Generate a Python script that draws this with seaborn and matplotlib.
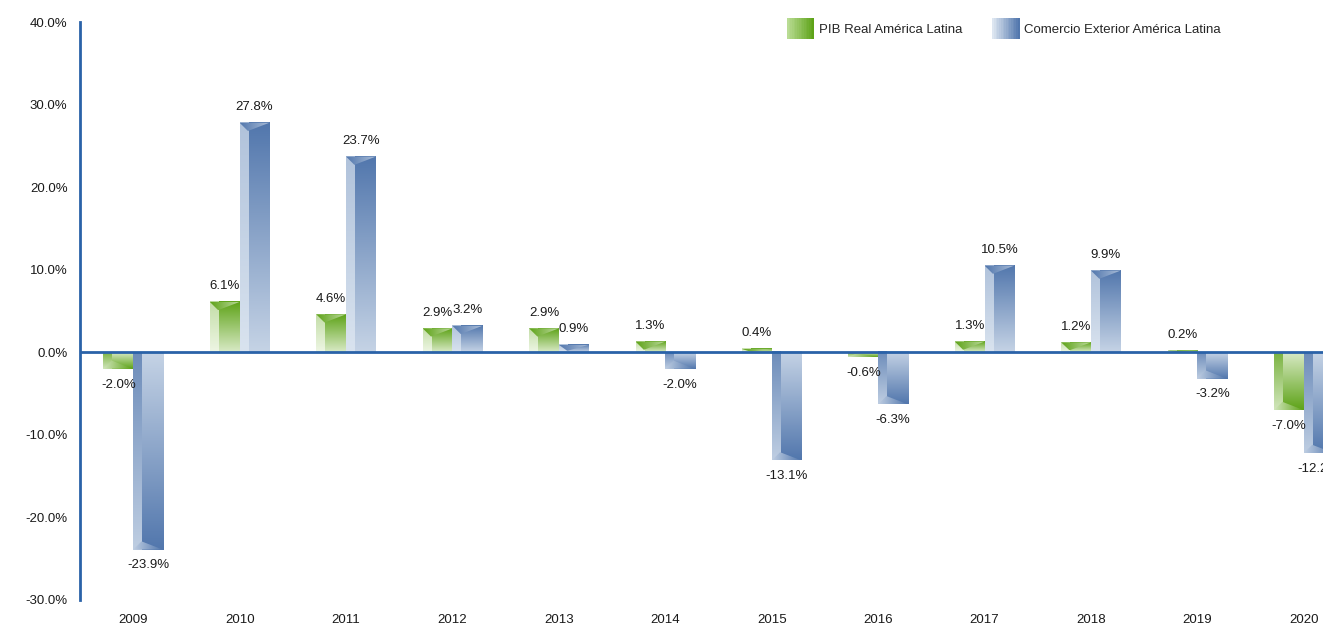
import numpy as np
import pandas as pd
import seaborn as sns
import matplotlib.pyplot as plt
from matplotlib.colors import to_rgb
from matplotlib.patches import Rectangle, Polygon
from matplotlib.legend_handler import HandlerBase

# Data
years = ["2009", "2010", "2011", "2012", "2013", "2014",
         "2015", "2016", "2017", "2018", "2019", "2020"]
pib = [-2.0, 6.1, 4.6, 2.9, 2.9, 1.3, 0.4, -0.6, 1.3, 1.2, 0.2, -7.0]
comercio = [-23.9, 27.8, 23.7, 3.2, 0.9, -2.0, -13.1, -6.3, 10.5, 9.9, -3.2, -12.2]
series = ["PIB Real América Latina", "Comercio Exterior América Latina"]

# gradient colours: (light, dark)
green = ("#eef6e4", "#5ea318")
blue = ("#d9e3ef", "#5277ad")
axis_blue = "#2a62a8"

df = pd.DataFrame({
    "year": years * 2,
    "value": pib + comercio,
    "serie": [series[0]] * len(years) + [series[1]] * len(years),
})

sns.set_style("white")
plt.rcParams["font.family"] = ["Liberation Sans", "DejaVu Sans"]

fig = plt.figure(figsize=(13.23, 6.24), dpi=100)
ax = fig.add_axes([80 / 1323, 24 / 624, 1243 / 1323, 578 / 624])

sns.barplot(data=df, x="year", y="value", hue="serie", hue_order=series,
            palette=[green[1], blue[1]], width=0.56, legend=False, ax=ax)

ax.set_ylim(-30, 40)
ax.set_xlim(-0.5, 11.18)

# value labels first, while the axes are still in normal orientation
for cont in ax.containers:
    ax.bar_label(cont, labels=[f"{v:.1f}%" for v in cont.datavalues],
                 padding=7, fontsize=9.5, color="#1a1a1a", zorder=4)


def mix(c0, c1, t):
    return tuple(np.array(to_rgb(c0)) * (1 - t) + np.array(to_rgb(c1)) * t)


def ramp(c0, c1, n=64, horizontal=False):
    a, b = np.array(to_rgb(c0)), np.array(to_rgb(c1))
    t = np.linspace(0, 1, n)[:, None]
    g = a * (1 - t) + b * t
    return g[None, :, :] if horizontal else g[:, None, :]


def draw(img, ext, clip=None, z=2):
    im = ax.imshow(img, extent=ext, origin="lower", aspect="auto",
                   zorder=z, interpolation="bilinear")
    if clip is not None:
        im.set_clip_path(clip)


# replace flat fills with bevel-like gradients
for cont, cols in zip(ax.containers, [green, blue]):
    light, dark = cols
    for p in cont.patches:
        x0, w, h = p.get_x(), p.get_width(), p.get_height()
        p.set_facecolor("none")
        p.set_edgecolor("none")
        s = w * 0.28
        # main body: light at zero, dark at the tip
        draw(ramp(mix(light, dark, 0.15), dark), [x0 + s, x0 + w, 0, h])
        # narrow left strip
        if h >= 0:
            strip = ramp(light, mix(light, dark, 0.3))
        else:
            strip = ramp(mix(light, dark, 0.8), mix(light, dark, 0.2))
        draw(strip, [x0, x0 + s, 0, h])
        # bevel cap: triangle pointing into the bar at the strip edge
        d = min(abs(h) * 0.8, 1.0) * np.sign(h)
        tri = Polygon([(x0, h), (x0 + w, h), (x0 + s, h - d)], closed=True,
                      transform=ax.transData, facecolor="none", edgecolor="none")
        ax.add_patch(tri)
        if h >= 0:
            cap = ramp(dark, mix(light, dark, 0.35), horizontal=True)
        else:
            cap = ramp(mix(light, dark, 0.2), dark, horizontal=True)
        draw(cap, [x0, x0 + w, min(h, h - d), max(h, h - d)], clip=tri, z=3)

ax.axhline(0, color=axis_blue, lw=2, zorder=5)
ax.set_ylim(-30, 40)
ax.set_xlim(-0.5, 11.18)
ax.set_aspect("auto")
ax.set_yticks(range(-30, 41, 10))
ax.set_yticklabels([f"{v:.1f}%" for v in range(-30, 41, 10)])
ax.tick_params(axis="both", length=0, labelsize=9.5, colors="#1a1a1a")
ax.tick_params(axis="y", pad=9)
ax.tick_params(axis="x", pad=10)
ax.set_xlabel("")
ax.set_ylabel("")
for side in ["top", "right", "bottom"]:
    ax.spines[side].set_visible(False)
ax.spines["left"].set_color(axis_blue)
ax.spines["left"].set_linewidth(2)


class GradHandler(HandlerBase):
    def __init__(self, c0, c1):
        super().__init__(xpad=0, ypad=0)
        self.c0, self.c1 = c0, c1

    def create_artists(self, legend, orig_handle, xdescent, ydescent,
                       width, height, fontsize, trans):
        n = 16
        cols = sns.blend_palette([self.c0, self.c1], n)
        arts = []
        for i in range(n):
            arts.append(Rectangle((-xdescent + width * i / n, -ydescent),
                                  width / n * 1.05, height, facecolor=cols[i],
                                  edgecolor="none", transform=trans))
        return arts


h1, h2 = Rectangle((0, 0), 1, 1), Rectangle((0, 0), 1, 1)
fig.legend([h1, h2], series, loc="upper left", bbox_to_anchor=(787 / 1323, 1 - 18 / 624),
           ncol=2, frameon=False, fontsize=9.5, borderpad=0, borderaxespad=0,
           handlelength=2.05, handleheight=2.05, handletextpad=0.35, columnspacing=2.3,
           handler_map={h1: GradHandler("#b9dc94", green[1]),
                        h2: GradHandler("#dde6f1", blue[1])})

fig.savefig("out.png", dpi=100)
